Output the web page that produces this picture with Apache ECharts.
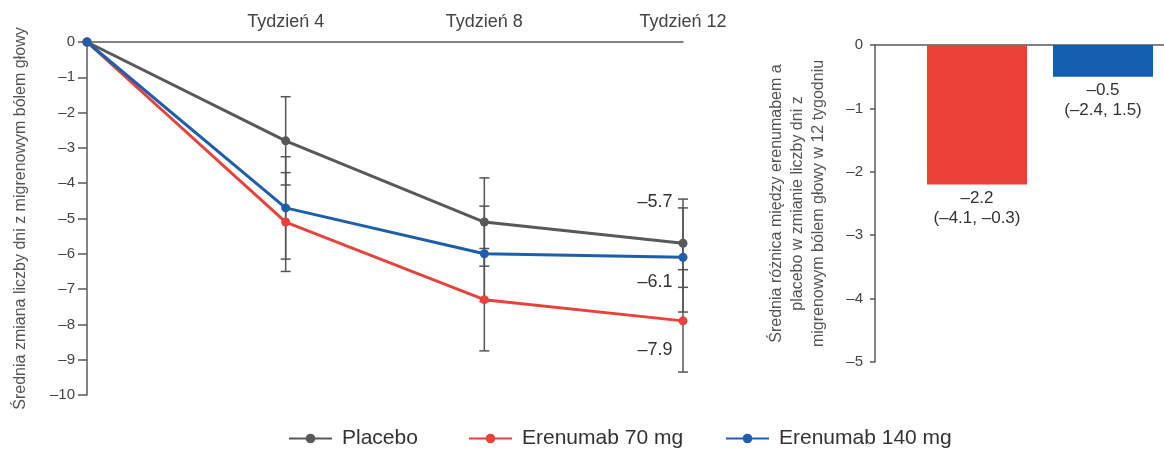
<!DOCTYPE html>
<html>
<head>
<meta charset="utf-8">
<script src="https://cdn.jsdelivr.net/npm/echarts@6/dist/echarts.min.js"></script>
<style>
  html, body { margin: 0; padding: 0; background: #fff; }
  #chart { width: 1164px; height: 450px; }
</style>
</head>
<body>
<div id="chart"></div>
<script>
// Time points (week 0 has no label on the top axis)
const weeks = ['', 'Tydzień 4', 'Tydzień 8', 'Tydzień 12'];

// Mean change in monthly migraine days
const placebo     = [0, -2.8, -5.1, -5.7];
const erenumab70  = [0, -5.1, -7.3, -7.9];
const erenumab140 = [0, -4.7, -6.0, -6.1];

// Error bar ends (lower, upper) for each time point
const placeboLow  = [null, -4.05, -6.35, -6.95];
const placeboHigh = [null, -1.55, -3.85, -4.45];
const e70Low      = [null, -6.5, -8.75, -9.35];
const e70High     = [null, -3.7, -5.85, -6.45];
const e140Low     = [null, -6.15, -7.35, -7.65];
const e140High    = [null, -3.25, -4.65, -4.7];

// Difference vs placebo at week 12 with 95% CI
const diffNames = ['Erenumab 70 mg', 'Erenumab 140 mg'];
const diffValues = [-2.2, -0.5];
const diffCiLow  = [-4.1, -2.4];
const diffCiHigh = [-0.3, 1.5];

// Axis ticks
const lineTicks = { min: -10, max: 0, interval: 1 };
const barTicks  = { min: -5, max: 0, interval: 1 };

const FONT = "'Liberation Sans', Arial, Helvetica, sans-serif";
const COLORS = { placebo: '#58595b', e70: '#e8423b', e140: '#1d5fab' };
const BAR_COLORS = ['#ea4038', '#1560ae'];
const AXIS = '#5a5a5a';

const dash = '\u2013';
const fmt = v => (v < 0 ? dash : '') + Math.abs(v).toFixed(1);
const fmtTick = v => (v < 0 ? dash : '') + Math.abs(v);

function errorData(low, high) {
  const out = [];
  low.forEach((lo, i) => { if (lo !== null) out.push([i, lo, high[i]]); });
  return out;
}

function renderError(params, api) {
  const x = api.value(0);
  const lo = api.coord([x, api.value(1)]);
  const hi = api.coord([x, api.value(2)]);
  const w = 5;
  const style = { stroke: '#555', lineWidth: 1.5 };
  return {
    type: 'group',
    children: [
      { type: 'line', shape: { x1: hi[0], y1: hi[1], x2: lo[0], y2: lo[1] }, style },
      { type: 'line', shape: { x1: hi[0] - w, y1: hi[1], x2: hi[0] + w, y2: hi[1] }, style },
      { type: 'line', shape: { x1: lo[0] - w, y1: lo[1], x2: lo[0] + w, y2: lo[1] }, style }
    ]
  };
}

function lineData(values, labelOffset) {
  const last = values.length - 1;
  return values.map((v, i) => i === last ? {
    value: v,
    label: {
      show: true, position: 'left', distance: 6, offset: [0, labelOffset],
      formatter: p => fmt(p.value), fontSize: 18, color: '#333', fontFamily: FONT
    }
  } : v);
}

function lineSeries(name, values, color, labelOffset) {
  return {
    type: 'line', name, data: lineData(values, labelOffset),
    xAxisIndex: 0, yAxisIndex: 0, z: 3,
    symbol: 'circle', symbolSize: 9,
    lineStyle: { color, width: 3 },
    itemStyle: { color },
    emphasis: { disabled: true }
  };
}

function errorSeries(low, high) {
  return {
    type: 'custom', renderItem: renderError, data: errorData(low, high),
    encode: { x: 0, y: [1, 2] }, xAxisIndex: 0, yAxisIndex: 0, z: 1, silent: true
  };
}

function barSeries(i) {
  return {
    type: 'bar', name: diffNames[i], data: [diffValues[i]],
    xAxisIndex: 1, yAxisIndex: 1, barWidth: 100, barGap: '26%',
    itemStyle: { color: BAR_COLORS[i] },
    label: {
      show: true, position: 'bottom', distance: 4,
      formatter: () => fmt(diffValues[i]) + '\n(' + fmt(diffCiLow[i]) + ', ' + fmt(diffCiHigh[i]) + ')',
      fontSize: 17, lineHeight: 20, color: '#333', fontFamily: FONT, align: 'center'
    },
    emphasis: { disabled: true }
  };
}

function legend(name, left) {
  return {
    data: [name], left, top: 428, padding: 0,
    itemWidth: 43, itemHeight: 12,
    textStyle: { fontSize: 21, color: '#333', fontFamily: FONT, padding: [0, 0, 0, 5] }
  };
}

const chart = echarts.init(document.getElementById('chart'));
chart.setOption({
  animation: false,
  backgroundColor: '#fff',
  textStyle: { fontFamily: FONT },
  grid: [
    { left: 87, right: 481, top: 42, bottom: 55, outerBoundsMode: 'none' },
    { left: 875, width: 330, top: 45, bottom: 88, outerBoundsMode: 'none' }
  ],
  xAxis: [
    {
      type: 'category', gridIndex: 0, data: weeks, boundaryGap: false, position: 'top',
      axisLine: { lineStyle: { color: AXIS, width: 1.5 } },
      axisTick: { show: false },
      axisLabel: { fontSize: 18, color: '#444', margin: 11, fontFamily: FONT },
      splitLine: { show: false }
    },
    {
      type: 'category', gridIndex: 1, data: ['12'], position: 'top',
      axisLine: { lineStyle: { color: AXIS, width: 1.5 } },
      axisTick: { show: false }, axisLabel: { show: false }, splitLine: { show: false }
    }
  ],
  yAxis: [
    {
      type: 'value', gridIndex: 0, min: lineTicks.min, max: lineTicks.max, interval: lineTicks.interval,
      axisLine: { show: true, lineStyle: { color: AXIS, width: 1.5 } },
      axisTick: { show: true, length: 9, lineStyle: { color: AXIS, width: 1.5 } },
      axisLabel: { fontSize: 15, color: '#444', margin: 12, formatter: fmtTick, fontFamily: FONT },
      splitLine: { show: false },
      name: 'Średnia zmiana liczby dni z migrenowym bólem głowy',
      nameLocation: 'middle', nameGap: 58,
      nameTextStyle: { fontSize: 16, color: '#555', fontFamily: FONT }
    },
    {
      type: 'value', gridIndex: 1, min: barTicks.min, max: barTicks.max, interval: barTicks.interval,
      axisLine: { show: true, lineStyle: { color: AXIS, width: 1.5 } },
      axisTick: { show: true, length: 5, lineStyle: { color: AXIS, width: 1.5 } },
      axisLabel: { fontSize: 15, color: '#444', margin: 12, formatter: fmtTick, fontFamily: FONT },
      splitLine: { show: false },
      name: 'Średnia różnica między erenumabem a\nplacebo w zmianie liczby dni z\nmigrenowym bólem głowy w 12 tygodniu',
      nameLocation: 'middle', nameGap: 46,
      nameTextStyle: { fontSize: 16, lineHeight: 21, color: '#555', fontFamily: FONT, align: 'center' }
    }
  ],
  legend: [
    legend('Placebo', 288),
    legend('Erenumab 70 mg', 468),
    legend('Erenumab 140 mg', 725)
  ],
  series: [
    lineSeries('Placebo', placebo, COLORS.placebo, -41),
    lineSeries('Erenumab 70 mg', erenumab70, COLORS.e70, 29),
    lineSeries('Erenumab 140 mg', erenumab140, COLORS.e140, 25),
    errorSeries(placeboLow, placeboHigh),
    errorSeries(e70Low, e70High),
    errorSeries(e140Low, e140High),
    barSeries(0),
    barSeries(1)
  ]
});
</script>
</body>
</html>
